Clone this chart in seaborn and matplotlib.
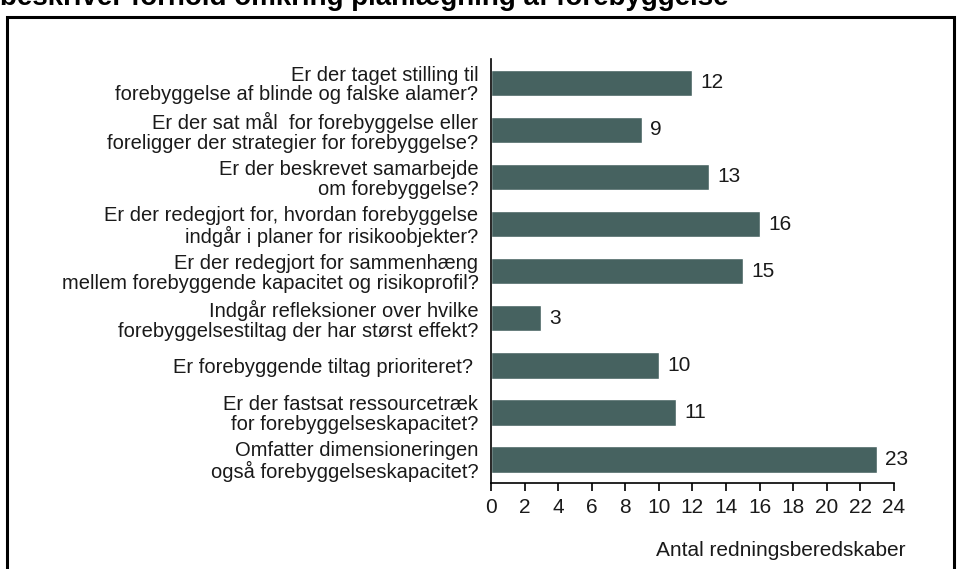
import matplotlib
matplotlib.use("Agg")
import matplotlib.pyplot as plt
from matplotlib.patches import Rectangle
import seaborn as sns
import pandas as pd

questions = [
    "Er der taget stilling til\nforebyggelse af blinde og falske alamer?",
    "Er der sat mål  for forebyggelse eller\nforeligger der strategier for forebyggelse?",
    "Er der beskrevet samarbejde\nom forebyggelse?",
    "Er der redegjort for, hvordan forebyggelse\nindgår i planer for risikoobjekter?",
    "Er der redegjort for sammenhæng\nmellem forebyggende kapacitet og risikoprofil?",
    "Indgår refleksioner over hvilke\nforebyggelsestiltag der har størst effekt?",
    "Er forebyggende tiltag prioriteret? ",
    "Er der fastsat ressourcetræk\nfor forebyggelseskapacitet?",
    "Omfatter dimensioneringen\nogså forebyggelseskapacitet?",
]
counts = [12, 9, 13, 16, 15, 3, 10, 11, 23]
x_ticks = list(range(0, 25, 2))
title = "beskriver forhold omkring planlægning af forebyggelse"
x_label = "Antal redningsberedskaber"

sns.set_theme(style="white")
plt.rcParams["font.family"] = ["Liberation Sans", "DejaVu Sans"]

FS = 14.5
NUM_FS = 15
TXT = "#1a1a1a"

df = pd.DataFrame({"question": questions, "count": counts})

fig = plt.figure(figsize=(9.57, 5.69), dpi=100)
ax = fig.add_axes([0.513, 0.151, 0.421, 0.745])

sns.barplot(data=df, x="count", y="question", orient="h", color="#466260",
            saturation=1, width=0.56, ax=ax)

for patch, v in zip(ax.patches, counts):
    y = patch.get_y() + patch.get_height() / 2
    ax.text(v + 0.5, y, str(v), va="center", ha="left", fontsize=NUM_FS, color=TXT)

ax.set_xlim(0, 24)
ax.set_xticks(x_ticks)
ax.set_xticklabels([str(t) for t in x_ticks], fontsize=NUM_FS, color=TXT)
ax.set_yticks(range(len(questions)))
ax.set_yticklabels(questions, fontsize=FS, color=TXT, ha="right",
                   multialignment="right", linespacing=1.05)
ax.set_ylabel("")
ax.set_xlabel("")

for side in ["top", "right"]:
    ax.spines[side].set_visible(False)
for side in ["left", "bottom"]:
    ax.spines[side].set_color("black")
    ax.spines[side].set_linewidth(1.2)

ax.tick_params(axis="x", which="major", direction="out", length=6, width=1.2,
               color="black", bottom=True, pad=5)
ax.tick_params(axis="y", length=0, pad=9)

fig.text(905 / 957, 1 - 551 / 569, x_label, ha="right", va="center",
         fontsize=NUM_FS, color=TXT)

fig.text(0.0, 1 - 5 / 569, title, ha="left", va="baseline", fontsize=20,
         fontweight="bold", color="black")

fig.patches.append(Rectangle((7 / 957, -0.05), (954 - 7) / 957, 1.05 - 17 / 569,
                             transform=fig.transFigure, fill=False,
                             edgecolor="black", linewidth=2.2))

fig.savefig("out.png", dpi=100)
